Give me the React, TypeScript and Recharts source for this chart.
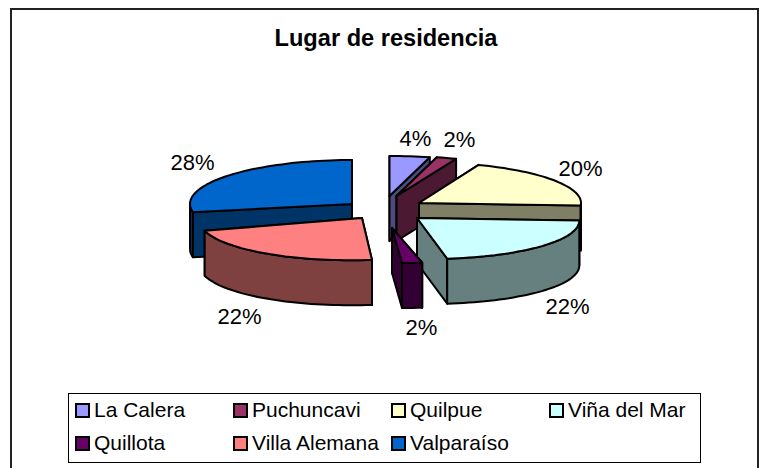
import { PieChart, Pie, Legend } from 'recharts';

const CATEGORIES = ['La Calera', 'Puchuncavi', 'Quilpue', 'Viña del Mar', 'Quillota', 'Villa Alemana', 'Valparaíso'];
const VALUES = [4, 2, 20, 22, 2, 22, 28];

const COLORS = ['#9999FF', '#993366', '#FFFFCC', '#CCFFFF', '#660066', '#FF8080', '#0066CC'];
const SIDE_COLORS = ['#4C4C7F', '#4C1933', '#7F7F66', '#667F7F', '#330033', '#7F4040', '#003366'];

// Excel-style explode and perspective for each slice: shift from the pie centre,
// vertical radius, lean of the front half, drop of the left side
const SLICE_VIEW = [
  { dx: 6, dy: -18, ry: 40, lean: 0, tilt: 0 },
  { dx: 13, dy: -18, ry: 40, lean: 0, tilt: 0 },
  { dx: 35.5, dy: -11, ry: 41, lean: 0, tilt: 0 },
  { dx: 33.5, dy: 4, ry: 41, lean: 10, tilt: 0 },
  { dx: 8.5, dy: 14, ry: 35, lean: 10, tilt: 0 },
  { dx: -21.5, dy: 4, ry: 42, lean: 10, tilt: 5 },
  { dx: -31.5, dy: -10, ry: 44, lean: 0, tilt: 0 },
];
const LABEL_SHIFT = [
  [32, -76],
  [76, -75],
  [197, -46],
  [184, 92],
  [38, 113],
  [-144, 102],
  [-191, -52],
];

const DEPTH = 45;
const CX = 383.5;
const CY = 214;
const RX = 162;
const BACK_SLICE = CATEGORIES.length - 1;

const chartData = CATEGORIES.map((name, i) => ({ name, value: VALUES[i] }));

function Slice3D(props: any) {
  const { cx, cy, outerRadius, startAngle, endAngle, name } = props;
  const idx = CATEGORIES.indexOf(name);
  const view = SLICE_VIEW[idx];
  const ax = cx + view.dx;
  const ay = cy + view.dy;

  // recharts angles are counter-clockwise from 3 o'clock; work clockwise from 12
  const from = 90 - startAngle;
  const to = 90 - endAngle;
  const pt = (deg: number) => {
    const t = (deg * Math.PI) / 180;
    const sin = Math.sin(t);
    const cos = Math.cos(t);
    return [
      ax + outerRadius * sin + view.lean * Math.max(0, -cos),
      ay - view.ry * cos + view.tilt * Math.max(0, -sin),
    ];
  };
  const rim = (a: number, b: number) => {
    const pts = [];
    const steps = Math.max(2, Math.ceil(Math.abs(b - a) / 2));
    for (let i = 0; i <= steps; i++) pts.push(pt(a + ((b - a) * i) / steps));
    return pts;
  };
  const d = (pts: number[][]) => 'M' + pts.map((p) => p[0].toFixed(1) + ' ' + p[1].toFixed(1)).join('L') + 'Z';
  const drop = (pts: number[][]) => pts.map((p) => [p[0], p[1] + DEPTH]);

  const cut = (deg: number) => {
    const p = pt(deg);
    return d([[ax, ay], p, [p[0], p[1] + DEPTH], [ax, ay + DEPTH]]);
  };
  const frontFrom = Math.max(from, 90);
  const frontTo = Math.min(to, 270);
  const wall = frontTo > frontFrom ? rim(frontFrom, frontTo) : null;
  const common = { stroke: '#000', strokeWidth: 2, strokeLinejoin: 'round' as const };

  return (
    <g>
      <path d={cut(from)} fill={SIDE_COLORS[idx]} {...common} />
      <path d={cut(to)} fill={SIDE_COLORS[idx]} {...common} />
      {wall && <path d={d([...wall, ...drop(wall).reverse()])} fill={SIDE_COLORS[idx]} {...common} />}
      <path d={d([[ax, ay], ...rim(from, to)])} fill={COLORS[idx]} {...common} />
    </g>
  );
}

const backShape = (props: any) => (props.name === CATEGORIES[BACK_SLICE] ? <Slice3D {...props} /> : <g />);
const frontShape = (props: any) => (props.name !== CATEGORIES[BACK_SLICE] ? <Slice3D {...props} /> : <g />);

function renderLabel(props: any) {
  const { cx, cy, percent, index } = props;
  return (
    <text
      x={cx + LABEL_SHIFT[index][0]}
      y={cy + LABEL_SHIFT[index][1]}
      textAnchor="middle"
      dominantBaseline="central"
      fontSize={22}
      fill="#000"
      fontFamily="Liberation Sans"
    >
      {Math.round(percent * 100)}%
    </text>
  );
}

function LegendBox() {
  return (
    <div
      style={{
        position: 'absolute',
        left: 68,
        top: 392.5,
        width: 625,
        height: 68,
        border: '1.5px solid #000',
        display: 'grid',
        gridTemplateColumns: 'repeat(4, 158px)',
        gridAutoRows: '33px',
        paddingLeft: 6,
        boxSizing: 'content-box',
        fontFamily: 'Liberation Sans',
        fontSize: 21,
        color: '#000',
        background: '#fff',
      }}
    >
      {CATEGORIES.map((name, i) => (
        <div key={name} style={{ display: 'flex', alignItems: 'center', whiteSpace: 'nowrap' }}>
          <span
            style={{
              width: 11,
              height: 11,
              border: '2px solid #000',
              background: COLORS[i],
              marginRight: 4,
              flexShrink: 0,
            }}
          />
          {name}
        </div>
      ))}
    </div>
  );
}

export default function App() {
  return (
    <div style={{ position: 'absolute', left: 0, top: 0, width: 761, height: 468, background: '#fff', overflow: 'hidden' }}>
      <div
        style={{
          position: 'absolute',
          left: 10,
          top: 8,
          width: 745,
          height: 470,
          border: '2px solid #222',
        }}
      />
      <div
        style={{
          position: 'absolute',
          left: 0,
          width: 772,
          top: 25,
          textAlign: 'center',
          fontFamily: 'Liberation Sans',
          fontWeight: 'bold',
          fontSize: 23.6,
          color: '#000',
        }}
      >
        Lugar de residencia
      </div>
      <PieChart
        width={761}
        height={468}
        margin={{ top: 0, right: 0, bottom: 0, left: 0 }}
        style={{ position: 'absolute', left: 0, top: 0 }}
      >
        <Pie
          data={chartData}
          dataKey="value"
          nameKey="name"
          cx={CX}
          cy={CY}
          outerRadius={RX}
          startAngle={90}
          endAngle={-270}
          paddingAngle={0}
          shape={backShape}
          isAnimationActive={false}
        />
        <Pie
          data={chartData}
          dataKey="value"
          nameKey="name"
          cx={CX}
          cy={CY}
          outerRadius={RX}
          startAngle={90}
          endAngle={-270}
          paddingAngle={0}
          shape={frontShape}
          label={renderLabel}
          labelLine={false}
          isAnimationActive={false}
        />
        <Legend content={() => null} />
      </PieChart>
      <LegendBox />
    </div>
  );
}
